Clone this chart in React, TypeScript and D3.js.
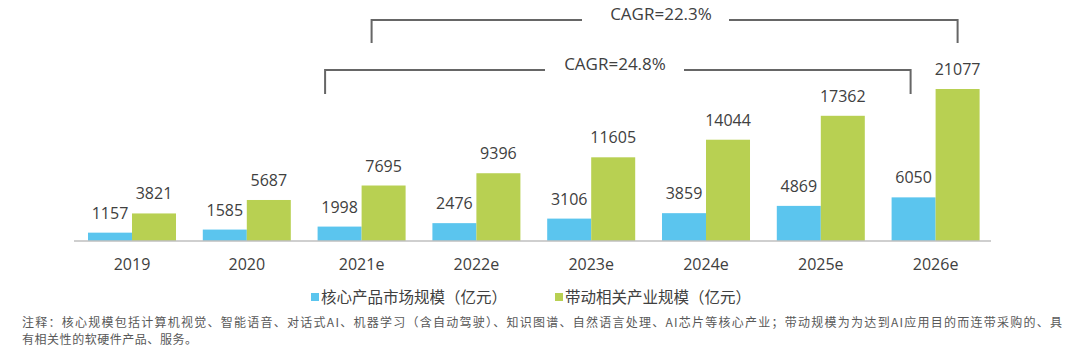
import React from "react";
import * as d3 from "d3";

const categories = ["2019", "2020", "2021e", "2022e", "2023e", "2024e", "2025e", "2026e"];
const coreValues = [1157, 1585, 1998, 2476, 3106, 3859, 4869, 6050];
const relatedValues = [3821, 5687, 7695, 9396, 11605, 14044, 17362, 21077];
const seriesNames = ["核心产品市场规模（亿元）", "带动相关产业规模（亿元）"];
const seriesColors = ["#5BC5EE", "#B8D052"];
const cagrs = [
  { label: "CAGR=22.3%", level: 0 },
  { label: "CAGR=24.8%", level: 1 },
];
const noteLines = [
  "注释：核心规模包括计算机视觉、智能语音、对话式AI、机器学习（含自动驾驶）、知识图谱、自然语言处理、AI芯片等核心产业；带动规模为为达到AI应用目的而连带采购的、具",
  "有相关性的软硬件产品、服务。",
];

const W = 1080;
const H = 348;
const baseY = 241;
const numFont = "'Open Sans', 'Noto Sans CJK SC', sans-serif";
const cjkFont = "'Noto Sans CJK SC', 'Open Sans', sans-serif";

export default function App() {
  const x = d3
    .scaleBand<string>()
    .domain(categories)
    .range([74.6, 993])
    .paddingInner(0.2334)
    .paddingOuter(0.1167);
  const xs = d3.scaleBand<number>().domain([0, 1]).range([0, x.bandwidth()]);
  const y = d3.scaleLinear().domain([0, 21077]).range([baseY, 89]);
  const series = [coreValues, relatedValues];

  const x21 = x("2021e")!;
  const x26 = x("2026e")!;
  const brackets = [
    { ...cagrs[0], left: x21 + 54, right: x26 + xs(1)! + xs.bandwidth() / 2, top: 20, bottom: 43, textX: 661, gapL: 582, gapR: 729 },
    { ...cagrs[1], left: x21 + 7.5, right: x26 + xs(0)! + xs.bandwidth() / 2 - 3, top: 70, bottom: 94, textX: 615, gapL: 545, gapR: 684 },
  ];

  return (
    <svg width={W} height={H} style={{ position: "absolute", left: 0, top: 0, background: "#fff" }}>
      <rect x={0} y={0} width={W} height={H} fill="#fff" />
      {series.map((vals, si) =>
        categories.map((c, i) => {
          const bx = x(c)! + xs(si)!;
          const by = y(vals[i]);
          return (
            <g key={`${si}-${c}`}>
              <rect x={bx} y={by} width={xs.bandwidth()} height={baseY - by} fill={seriesColors[si]} />
              <text
                x={bx + xs.bandwidth() / 2}
                y={by - 14}
                textAnchor="middle"
                fontFamily={numFont}
                fontSize={16}
                fill="#404040"
              >
                {vals[i]}
              </text>
            </g>
          );
        })
      )}
      <line x1={74} x2={991} y1={baseY} y2={baseY} stroke="#BFBFBF" strokeWidth={1.5} />
      {categories.map((c) => (
        <text
          key={c}
          x={x(c)! + x.bandwidth() / 2}
          y={270}
          textAnchor="middle"
          fontFamily={numFont}
          fontSize={16}
          fill="#404040"
        >
          {c}
        </text>
      ))}
      {brackets.map((b) => (
        <g key={b.label} stroke="#666" strokeWidth={2} fill="none">
          <polyline points={`${b.left},${b.bottom} ${b.left},${b.top} ${b.gapL},${b.top}`} />
          <polyline points={`${b.gapR},${b.top} ${b.right},${b.top} ${b.right},${b.bottom}`} />
          <text
            x={b.textX}
            y={b.top}
            textAnchor="middle"
            fontFamily={numFont}
            fontSize={17}
            fill="#404040"
            stroke="none"
          >
            {b.label}
          </text>
        </g>
      ))}
      {seriesNames.map((n, i) => {
        const lx = i === 0 ? 311 : 555;
        return (
          <g key={n}>
            <rect x={lx} y={293} width={8} height={8} fill={seriesColors[i]} />
            <text x={lx + 10} y={303} fontFamily={cjkFont} fontSize={15.5} fill="#404040">
              {n}
            </text>
          </g>
        );
      })}
      {noteLines.map((t, i) => (
        <text
          key={i}
          x={22}
          y={326.5 + i * 17.5}
          fontFamily={cjkFont}
          fontSize={12}
          fill="#595959"
          textLength={i === 0 ? 1040 : 175}
          lengthAdjust="spacing"
        >
          {t}
        </text>
      ))}
    </svg>
  );
}
